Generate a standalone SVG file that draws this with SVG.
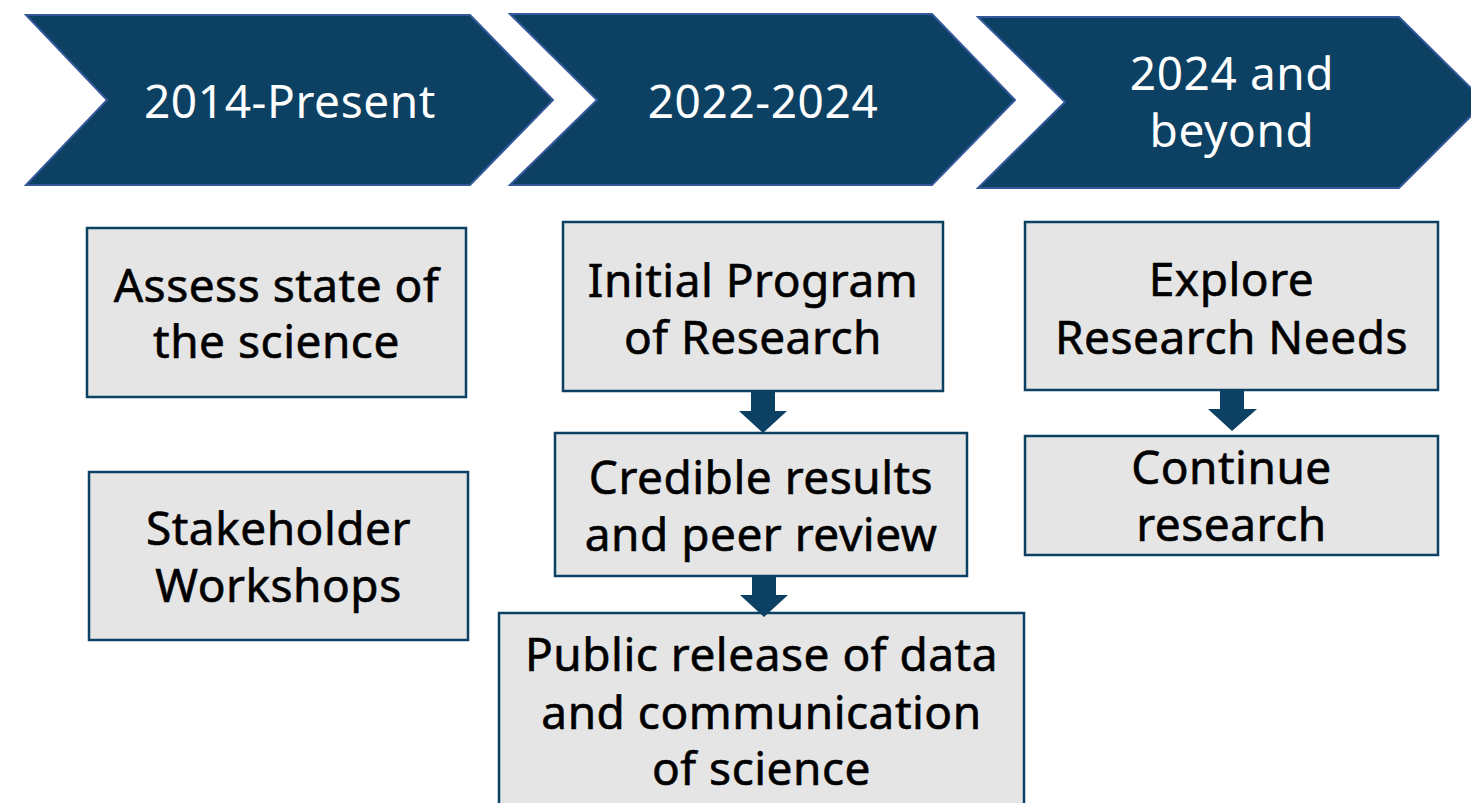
<svg xmlns="http://www.w3.org/2000/svg" width="1471" height="803" viewBox="0 0 1471 803">
<style>
.chev{fill:#0C4163;stroke:#34589A;stroke-width:2}
.box{fill:#E5E5E5;stroke:#0C4163;stroke-width:2.5}
.arr{fill:#0C4163}
.ht{font-family:"Noto Sans","Liberation Sans",sans-serif;font-size:46px;fill:#FFFFFF;text-anchor:middle;letter-spacing:0.6px}
.bt{font-family:"Noto Sans","Liberation Sans",sans-serif;font-size:46px;fill:#000000;stroke:#000000;stroke-width:0.6;text-anchor:middle;letter-spacing:0.5px}
</style>
<rect width="1471" height="803" fill="#FFFFFF"/>
<g id="phase1">
<polygon class="chev" points="26,15 470,15 553,100 470,185 26,185 107,100"/>
<text class="ht" x="290" y="118">2014-Present</text>
</g>
<g id="phase2">
<polygon class="chev" points="510,14 932,14 1015,100 932,185 510,185 597,100"/>
<text class="ht" x="763" y="118">2022-2024</text>
</g>
<g id="phase3">
<polygon class="chev" points="978,17 1399,17 1485,102 1399,188 978,188 1065,102"/>
<text class="ht" x="1232" y="90">2024 and</text>
<text class="ht" x="1232" y="147">beyond</text>
</g>
<g id="assess">
<rect class="box" x="87" y="228" width="379" height="169"/>
<text class="bt" x="276.5" y="302">Assess state of</text>
<text class="bt" x="276.5" y="358">the science</text>
</g>
<g id="stakeholder">
<rect class="box" x="89" y="472" width="379" height="168"/>
<text class="bt" x="278.5" y="545">Stakeholder</text>
<text class="bt" x="278.5" y="602">Workshops</text>
</g>
<g id="initial">
<rect class="box" x="563" y="222" width="380" height="169"/>
<text class="bt" x="753" y="297">Initial Program</text>
<text class="bt" x="753" y="354">of Research</text>
</g>
<g id="credible">
<rect class="box" x="555" y="433" width="412" height="143"/>
<text class="bt" x="761" y="494">Credible results</text>
<text class="bt" x="761" y="551">and peer review</text>
</g>
<g id="public">
<rect class="box" x="499" y="613" width="525" height="194"/>
<text class="bt" x="761.5" y="671">Public release of data</text>
<text class="bt" x="761.5" y="729">and communication</text>
<text class="bt" x="761.5" y="785">of science</text>
</g>
<g id="explore">
<rect class="box" x="1025" y="222" width="413" height="168"/>
<text class="bt" x="1231.5" y="296">Explore</text>
<text class="bt" x="1231.5" y="354">Research Needs</text>
</g>
<g id="continue">
<rect class="box" x="1025" y="436" width="413" height="119"/>
<text class="bt" x="1231.5" y="484">Continue</text>
<text class="bt" x="1231.5" y="541">research</text>
</g>
<g id="connectors">
<polygon class="arr" points="751,392 775,392 775,411 787,411 763,433 739,411 751,411"/>
<polygon class="arr" points="752,577 776,577 776,595 788,595 764,617 740,595 752,595"/>
<polygon class="arr" points="1220,391 1244,391 1244,409 1257,409 1232,431 1208,409 1220,409"/>
</g>
</svg>
